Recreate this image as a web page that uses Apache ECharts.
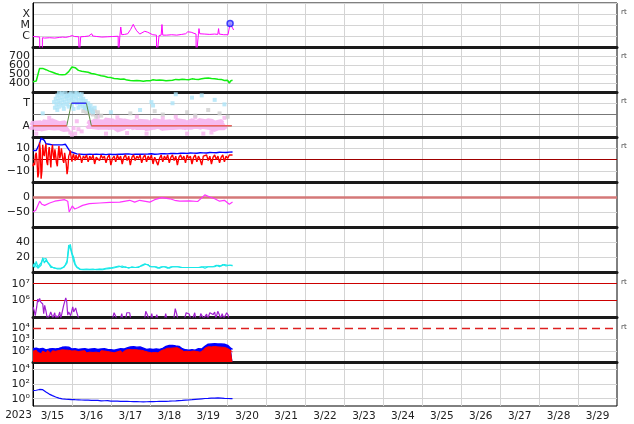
<!DOCTYPE html>
<html><head><meta charset="utf-8">
<script src="https://cdn.jsdelivr.net/npm/echarts@6/dist/echarts.min.js"></script>
<style>html,body{margin:0;padding:0;background:#fff}#c{width:634px;height:424px}</style>
</head><body><div id="c"></div>
<script>
// ---------------- DATA (hours from 2023-03-15 00:00) ----------------
const dayLabels = ['3/15','3/16','3/17','3/18','3/19','3/20','3/21','3/22','3/23','3/24','3/25','3/26','3/27','3/28','3/29'];
const yearLabel = '2023';

// Panel 1: X-ray flux [hour, W/m2]
const xrayHours = [0,1,2.3,3.5,4.1,4.25,5.7,5.8,7.2,10.3,13.4,16.5,18.3,20.2,22.6,23.9,25.7,28.2,28.4,29.2,29.4,31.9,34.3,36.2,36.8,39.3,42.4,46.1,49.1,52.5,52.6,53.5,53.6,54.1,54.7,56.5,58.4,60.2,61.8,62.7,63.9,65.8,67,68.9,70.7,71.9,73.8,76.1,76.3,77.5,77.7,79,79.5,80,82.4,85.5,88.6,91.7,94.1,95.4,96.6,97.5,98.5,100.5,100.6,101.8,102,102.3,102.8,105.9,109,112,113.9,114.4,114.8,117.6,120.2,121.5,123.7];
const xrayVals = [9e-7,8e-7,8.5e-7,7.5e-7,8e-7,1e-8,1e-8,7e-7,6.5e-7,7e-7,6.5e-7,7.5e-7,8e-7,7.5e-7,9e-7,1.1e-6,9e-7,8.5e-7,1e-8,1e-8,8.5e-7,9e-7,1e-6,1.6e-6,1e-6,9e-7,8e-7,8.5e-7,9e-7,9.5e-7,1e-8,1e-8,1.2e-6,6.6e-6,1.3e-6,1.4e-6,1.6e-6,4e-6,1.15e-5,6e-6,3e-6,1.5e-6,1.8e-6,2.7e-6,2.2e-6,1.6e-6,1.3e-6,1.2e-6,1e-8,1e-8,1.1e-6,1.2e-6,1.1e-5,1.2e-6,1.2e-6,1.3e-6,1.2e-6,1.4e-6,1.6e-6,2.4e-6,3.3e-6,2.2e-6,1.6e-6,1.5e-6,1e-8,1e-8,1.6e-6,4.7e-6,1.6e-6,1.5e-6,1.4e-6,1.5e-6,1.4e-6,4.7e-6,1.5e-6,1.3e-6,1.3e-6,1.35e-5,3.5e-6];
const flareMarker = [[121.5, 1.35e-5]];

// Panel 2: solar wind speed, hourly
const speed = [415,408,422,428,560,578,562,555,548,540,532,526,520,512,506,500,494,486,492,500,494,506,526,548,578,562,570,548,540,552,530,522,526,516,520,512,506,510,500,494,490,486,480,478,474,470,465,470,460,455,450,455,447,444,441,440,445,437,432,430,428,430,425,432,428,422,426,434,420,430,426,432,424,428,436,422,430,427,434,424,430,436,426,432,428,438,430,434,440,428,436,432,442,434,438,444,436,440,446,438,442,448,440,452,446,460,452,448,456,444,450,440,446,436,442,432,440,434,428,438,430,400,426,430];

// Panel 3: sector (T=+1 / A=-1)
const sectorHours = [0,20.8,23.7,32.9,36.0,122.5];
const sectorVals = [-1,-1,1,1,-1,-1];
const pinkBand = [-0.9,-1.1,-0.8,-1.0,-1.2,-0.9,-0.8,-1.1,-1.0,-0.7,-1.2,-0.9,-1.0,-0.8,-1.1,-0.9,-1.2,-0.8,-1.0,-0.9,-1.1,-1.0,
  null,null,null,null,null,null,null,null,null,null,null,null,null,
  -0.8,-1.0,-0.7,-1.1,-0.9,-0.6,-1.0,-0.8,-1.2,-0.7,-0.9,-1.0,-0.6,-0.9,-1.1,-0.8,-0.7,-1.0,-0.9,-1.2,-0.8,-0.6,-1.0,-0.9,-0.7,-1.1,-0.8,-0.9,-1.0,-0.7,-0.8,-1.1,-0.9,-0.6,-1.0,-0.8,-0.9,-1.2,-0.7,-0.9,-1.0,-0.8,-0.6,-1.1,-0.9,-0.8,-1.0,-0.7,-0.9,-1.2,-0.8,-1.0,-0.7,-0.9,-1.1,-0.8,-0.6,-1.0,-0.9,-0.8,-1.2,-0.7,-0.9,-1.0,-0.8,-1.1,-0.7,-0.9,-1.0,-0.8,-0.6,-1.1,-0.9,-1.0,-0.8,-0.7,-1.0,-0.9,-1.1,-0.8,-0.7,-1.0,-0.9,-0.8];
const pinkDots = [[23,-1.6],[24,-1.8],[25,-1.2],[26,-1.7],[27,-0.6],[28,-1.3],[30,-1.5],[40,-0.2],[52,-0.25],[64,-0.2],[88,-0.2],[100,-0.25],[45,-1.7],[70,-1.7],[95,-1.7],[110,-1.6],[118,-0.3],[2,-1.7],[10,-0.3],[58,-1.65],[80,-0.3],[105,-1.7]];
const cyanDots = [[13,1.1],[13.5,0.6],[14,1.4],[14.5,0.9],[15,1.7],[15.5,1.2],[16,0.7],[16.5,1.5],[17,1.0],[17.5,1.8],[18,1.3],[18.5,0.8],[19,1.6],[19.5,1.1],[20,1.9],[20.5,1.4],[21,0.9],[21.5,1.7],[22,1.2],[22.5,1.8],[23,1.5],[23.5,1.9],[24,1.3],[24.5,1.7],[25,1.1],[25.5,1.6],[26,1.9],[26.5,1.4],[27,1.0],[27.5,1.7],[28,1.3],[28.5,1.8],[29,0.9],[29.5,1.5],[30,1.2],[30.5,0.7],[31,1.4],[31.5,1.0],[32,0.6],[32.5,1.2],[33,0.8],[33.5,0.5],[34,1.0],[34.5,0.6],[35,0.3],[35.5,0.8],[36,0.5],[37,0.2],[38,0.6],[15,0.4],[18,1.9],[21,1.6],[24,0.8],[27,1.9],[30,1.8],[16,1.9],[19,0.5],[22,0.7],[25,0.5],[28,0.6],[73,1.1],[74,0.8],[86,1.0],[88,1.8],[98,1.5],[104,1.7],[112,1.3],[118,0.9],[66,0.4],[48,0.2],[6,0.1]];
const grayDots = [[31,0.3],[32,0.6],[33,0.2],[34,0.5],[35,0.1],[36,0.4],[37,0.0],[38,0.3],[39,-0.2],[40,0.2],[42,-0.1],[60,0.1],[75,0.3],[80,0.0],[95,0.2],[100,-0.1],[108,0.4],[115,0.1],[120,-0.2]];

// Panel 4: IMF Bt hourly, Bz half-hourly (first 30 h) then hourly (nT)
const bt = [8,8.5,8,9,14,19,20,17,14,13,13.5,12.5,13,12,13,12.5,13,14,13,14,13.5,15,9,7,7.5,6,6.5,5,5.5,4.8,
  4.6,4.4,4.8,4.5,4.3,4.7,4.5,4.6,4.4,4.8,4.5,4.6,4.4,4.7,4.5,4.3,4.6,4.8,4.5,4.4,4.7,4.5,4.6,4.8,
  4.5,4.7,4.6,4.9,4.7,5.0,4.8,4.6,4.9,4.7,5.0,4.8,4.9,4.7,5.0,4.8,4.6,4.9,4.8,5.1,4.9,4.7,5.0,4.8,
  5.0,5.2,4.9,5.1,5.3,5.0,5.2,5.4,5.1,5.3,5.5,5.2,5.4,5.6,5.3,5.5,5.7,5.4,5.6,5.8,5.5,5.7,5.9,5.6,
  5.8,6.0,5.7,5.9,6.1,5.8,6.0,6.2,5.9,6.1,6.3,6.0,6.2,6.4,6.1,6.3,6.5,6.2,6.4,6.6,6.5,6.7];
const bzEarly = [-6,-3,-5,4,6,-2,-16,-12,15,8,-17,-10,
  13,5,3,10,14,-2,-5,6,11,2,-7,8,
  13,4,0,9,9,-3,-6,5,12,1,4,10,
  10,-1,-3,6,7,-4,-13,-8,3,5,8,2,
  -2,3,5,1,-1,4,4,0,2,5,5,1];
const bzLate = [-3,3,1,4,-2,3,0,4,-4,2,3,-1,4,1,3,-3,2,4,
  -5,1,3,-2,4,0,3,-4,2,4,-1,3,-5,2,4,-1,3,1,4,-3,2,4,-2,3,
  0,4,-4,2,3,-5,1,4,-2,3,0,4,-3,2,4,-1,3,-5,2,4,0,3,-3,4,
  1,3,-4,2,4,-2,3,0,-5,3,2,4,-1,3,-4,2,4,0,3,-3,2,4,-2,3,1,4,3,4];

// Panel 5: Dst [hour, nT]
const dstHours = [0,1.7,4.1,5.4,7.2,10.3,13.4,16.5,19.5,21.4,22.3,23.2,24.2,25.7,27.6,30.6,34.7,41.1,47.3,53.5,59.6,62.7,65.8,72,75,79.4,84.3,87.3,90.4,96.6,101.5,104,105.9,109,112,115,118,121,123];
const dstVals = [-50,-44,-14,-24,-28,-20,-14,-11,-9,-14,-50,-44,-30,-40,-36,-28,-22,-20,-18,-17,-11,-17,-11,-17,-9,-2,-6,-11,-14,-13,-15,-3,7,0,-6,-14,-11,-24,-17];

// Panel 6: density (two channels), hourly
const densA = [10,6,14,7,5,12,17,15,18,13,14,8,6,5,6,5,4,5,4,6,8,12,30,37,25,20,11,7,5,4,3,3.5,3,4,3,3.5,3,4,3.5,3,4,3.5,4,3,4.5,4,5,4.5,5,6,5.5,7,6,8,7,6,5.5,7,6,5,6,7,5.5,6,7,6,8,9,10,11,10,9,8,7,6,7,6,5,6,7,8,7,6,5,6,7,8,7,6,7,8,6,5,6,7,6,5,6,7,6,5,6,7,6,5,7,6,7,8,7,6,7,8,9,8,7,9,10,9,8,10,9,8,9];
const densB = [7,12,8,5,6,9,19,12,16,17,10,6,5,6,5,4,5,4,5,7,10,15,36,32,30,15,9,6,4,3.5,3,3,4,3,3.5,3,3.5,3,4,3.5,3,4,3.5,4,4,5,4.5,5.5,6,5,7,6,8,7,9,8,6,6,7,6,5,6,7,6,5,7,7,8,9,10,11,10,7,8,7,6,7,6,5,6,7,8,7,6,5,6,7,8,7,6,7,7,6,5,6,7,6,5,6,7,6,5,6,8,7,6,5,6,7,8,7,6,7,8,9,8,8,9,10,9,9,10,9,8];

// Panel 7: electron flux [hour, value]
const elecHours = [0,0.7,1.4,2.3,2.9,3.5,4.1,4.7,5.4,6,6.6,7.2,8.1,8.8,9.7,10.3,10.9,11.8,12.1,13.4,14,14.6,15.2,16.5,17.1,17.7,18.9,20.2,20.8,21.4,22,22.6,23.2,24.5,25.1,25.7,26.3,26.9,27.6,28.2,49,50,51,51.6,54,54.7,55.3,57.2,57.8,58.7,59.6,60.2,68.9,69.5,70.4,71.3,72.6,73.2,73.8,75.6,76.3,76.9,81.2,81.8,82.4,86.8,87.7,88.6,89.2,93.5,94.4,95.4,96.3,97.2,98.5,99.7,100.3,102.8,103.4,104.6,105.2,107,107.7,109,110.2,111,112,112.7,113.9,114.8,115.7,116.6,117.6,118.8,119.4,120.3,120.7];
const elecVals = [4e5,2.5e5,1.2e5,4e5,1.2e6,8e5,1.3e6,8e5,1e6,6e5,1.6e5,5e5,2e5,8e4,8e4,1.3e5,2e5,1.2e5,8e4,1.8e5,8e4,1.2e5,8e4,2e5,8e4,8e4,5e5,1.4e6,8e5,1.3e5,2e5,1.6e5,1.2e5,4e5,2e5,1.8e5,3.5e5,2e5,1.2e5,8e4,8e4,1.8e5,1.4e5,8e4,8e4,1.6e5,8e4,8e4,1.8e5,1.4e5,1.8e5,8e4,8e4,2.2e5,1.4e5,8e4,8e4,1.6e5,8e4,8e4,1.4e5,8e4,8e4,1.6e5,8e4,8e4,3.2e5,1.5e5,8e4,8e4,1.8e5,2e5,1.5e5,8e4,8e4,1.8e5,8e4,8e4,1.6e5,1.8e5,8e4,1.5e5,8e4,1.8e5,2e5,1.4e5,2e5,8e4,2.2e5,1.4e5,8e4,1.6e5,8e4,8e4,1.8e5,1.3e5,8e4];

// Panel 8: proton flux channels, hourly
const protBlue = [150,110,170,120,140,100,160,130,120,170,140,110,150,120,140,110,160,130,200,170,220,190,210,160,140,110,150,120,130,100,140,120,150,110,130,120,140,110,150,120,130,110,140,120,150,110,130,140,120,150,110,140,130,120,150,110,140,160,180,200,220,190,230,200,210,190,220,180,170,140,130,120,140,110,130,120,140,110,130,150,160,200,240,260,290,270,300,280,260,290,240,200,150,130,120,140,110,130,120,140,110,130,150,120,140,160,250,330,380,420,400,440,410,430,400,420,390,410,380,350,300,220,160,130];
const protRed = [90,60,110,70,100,55,95,80,65,105,85,60,100,70,90,60,105,75,120,90,115,95,110,80,95,65,100,75,85,60,95,70,100,65,90,75,95,70,100,75,85,65,100,70,95,65,85,90,75,100,65,95,80,70,100,65,90,110,120,130,140,120,145,125,130,115,135,110,105,90,85,75,95,65,85,70,95,65,85,100,105,130,150,170,190,170,200,180,165,185,150,130,95,85,75,90,70,85,75,95,65,85,100,75,90,110,170,210,230,250,220,260,240,250,220,240,210,230,200,180,160,130,100,80];

// Panel 9: hourly
const lowChan = [12,13,14,16,18,19,17,12,8,5.5,4.2,3.3,2.6,2.1,1.7,1.4,1.2,1.0,0.95,0.9,0.85,0.8,0.82,0.78,0.75,0.8,0.72,0.76,0.7,0.72,
  0.66,0.6,0.63,0.58,0.62,0.56,0.6,0.55,0.58,0.52,0.57,0.54,0.5,0.55,0.52,0.48,0.53,0.5,0.47,0.5,0.46,0.49,0.45,0.48,0.44,0.47,0.43,0.46,0.42,0.45,
  0.41,0.44,0.4,0.43,0.39,0.42,0.38,0.41,0.37,0.4,0.38,0.41,0.39,0.42,0.4,0.43,0.41,0.44,0.42,0.45,0.43,0.46,0.44,0.47,0.45,0.5,0.48,0.52,0.5,0.55,
  0.55,0.6,0.58,0.63,0.62,0.68,0.66,0.72,0.72,0.78,0.8,0.86,0.88,0.94,0.96,1.02,1.05,1.1,1.12,1.18,1.2,1.25,1.22,1.28,1.25,1.3,1.22,1.18,1.12,1.08,1.05,1.0,1.04,1.0];

// ---------------- CHART ----------------
const FONT = 'DejaVu Sans';
const hourly = a => a.map((v, i) => [i, v]);
const pairs = (h, v) => h.map((x, i) => [x, v[i]]);
const minus = v => (v < 0 ? '\u2212' + Math.abs(v) : String(v));
const sup = {'0':'\u2070','1':'\u00B9','2':'\u00B2','3':'\u00B3','4':'\u2074','5':'\u2075','6':'\u2076','7':'\u2077'};

const tops = [3, 47, 92, 137, 182, 227, 272, 317, 362];
const heights = [44, 45, 45, 45, 45, 45, 45, 45, 44];
const grids = tops.map((t, i) => ({left: 33, right: 17, top: t, height: heights[i], show: true, borderColor: '#000', borderWidth: 1, backgroundColor: '#fff'}));

const xAxes = tops.map((t, i) => ({
  type: 'value', gridIndex: i, min: 0, max: 360, interval: 24,
  axisLabel: {show: false}, axisTick: {show: false},
  axisLine: {show: i < 8, onZero: false, lineStyle: {color: '#1a1a1a', width: 3}},
  splitLine: {show: true, showMinLine: false, showMaxLine: false, lineStyle: {color: '#d4d4d4', width: 1}}
}));
xAxes.push({type: 'category', gridIndex: 8, data: dayLabels, boundaryGap: true, position: 'bottom',
  axisLine: {show: false}, axisTick: {show: false}, splitLine: {show: false},
  axisLabel: {interval: 0, margin: 5, fontSize: 10.5, fontFamily: FONT, color: '#222'}});

const lab = f => ({fontSize: 11, fontFamily: FONT, color: '#222', margin: 3, showMinLabel: false, showMaxLabel: false, formatter: f});
const ySplit = {show: true, showMinLine: false, showMaxLine: false, lineStyle: {color: '#d4d4d4', width: 1}};
const yBase = i => ({gridIndex: i, axisTick: {show: false}, axisLine: {show: true, onZero: false, lineStyle: {color: '#000', width: 1}}});
const lg = v => Math.round(Math.log10(v));

const yAxes = [
  Object.assign(yBase(0), {type: 'log', logBase: 10, min: 1e-7, max: 1e-3, splitLine: ySplit,
    axisLabel: lab(v => ({'-6': 'C', '-5': 'M', '-4': 'X'})[lg(v)] || '')}),
  Object.assign(yBase(1), {type: 'value', min: 300, max: 800, interval: 100, splitLine: ySplit, axisLabel: lab(v => String(v))}),
  Object.assign(yBase(2), {type: 'value', min: -2, max: 2, interval: 1, splitLine: ySplit,
    axisLabel: lab(v => (v === 1 ? 'T' : v === -1 ? 'A' : ''))}),
  Object.assign(yBase(3), {type: 'value', min: -20, max: 20, interval: 10, splitLine: ySplit, axisLabel: lab(minus)}),
  Object.assign(yBase(4), {type: 'value', min: -100, max: 50, interval: 50, splitLine: ySplit, axisLabel: lab(minus)}),
  Object.assign(yBase(5), {type: 'value', min: 0, max: 60, interval: 20, splitLine: ySplit, axisLabel: lab(String)}),
  Object.assign(yBase(6), {type: 'log', logBase: 10, min: 1e5, max: 5e7, splitLine: {show: false},
    axisLabel: lab(v => ([6, 7].includes(lg(v)) && Math.abs(Math.log10(v) - lg(v)) < 0.01 ? '10' + sup[lg(v)] : ''))}),
  Object.assign(yBase(7), {type: 'log', logBase: 10, min: 1e1, max: 1e5, splitLine: {show: false},
    axisLabel: lab(v => ([2, 3, 4].includes(lg(v)) ? '10' + sup[lg(v)] : ''))}),
  Object.assign(yBase(8), {type: 'log', logBase: 10, min: 1e-1, max: 1e5, splitLine: {show: false},
    axisLabel: lab(v => ([0, 2, 4].includes(lg(v)) ? '10' + sup[lg(v)] : ''))})
];

const ml = (items) => ({silent: true, symbol: 'none', label: {show: false}, animation: false, z: 1, data: items});
const line = (i, data, color, extra) => Object.assign({type: 'line', xAxisIndex: i, yAxisIndex: i, data, symbol: 'none',
  lineStyle: {color, width: 1}, itemStyle: {color}, animation: false, clip: true, z: 3}, extra || {});
const guides = (i, items) => ({type: 'line', xAxisIndex: i, yAxisIndex: i, data: [], z: 1, silent: true, animation: false, markLine: ml(items)});
const dots = (i, data, color, size) => ({type: 'scatter', xAxisIndex: i, yAxisIndex: i, data, symbol: 'rect', symbolSize: size,
  itemStyle: {color}, animation: false, silent: true, z: 2});
const gridGray = {color: '#d4d4d4', width: 1, type: 'solid'};

const bzData = bzEarly.map((v, i) => [i * 0.5, v]).concat(bzLate.map((v, i) => [30 + i, v]));

const series = [
  // 1
  line(0, pairs(xrayHours, xrayVals), '#ff00ff'),
  {type: 'scatter', xAxisIndex: 0, yAxisIndex: 0, data: flareMarker, symbol: 'circle', symbolSize: 6,
    itemStyle: {color: '#8a8aff', borderColor: '#1a1aff', borderWidth: 1.5}, animation: false, z: 5},
  // 2
  line(1, hourly(speed), '#11ee11', {lineStyle: {color: '#11ee11', width: 1.5}}),
  // 3
  line(2, hourly(pinkBand), '#f6b3ee', {lineStyle: {color: '#f6b3ee', width: 11, opacity: 0.9}, connectNulls: false, z: 1}),
  dots(2, pinkDots, '#f6b3ee', 4),
  dots(2, grayDots, '#d0d0d0', 4),
  dots(2, cyanDots, '#ace4f7', 4),
  guides(2, [{yAxis: 0, lineStyle: {color: '#777', width: 1, type: 'solid'}}]),
  line(2, pairs(sectorHours, sectorVals), '#5a8c46', {z: 3}),
  line(2, [[sectorHours[0], sectorVals[0]], [sectorHours[1], sectorVals[1]]], '#f06060', {lineStyle: {color: '#f06060', width: 1.5}, z: 4}),
  line(2, [[sectorHours[4], sectorVals[4]], [sectorHours[5], sectorVals[5]]], '#f06060', {lineStyle: {color: '#f06060', width: 1.5}, z: 4}),
  line(2, [[sectorHours[2], sectorVals[2]], [sectorHours[3], sectorVals[3]]], '#3a3aff', {lineStyle: {color: '#3a3aff', width: 1.5}, z: 4}),
  // 4
  guides(3, [{yAxis: 0, lineStyle: {color: '#a00000', width: 1, type: 'solid'}}]),
  line(3, hourly(bt), '#0000ff', {lineStyle: {color: '#0000ff', width: 1.4}}),
  line(3, bzData, '#ff0000', {lineStyle: {color: '#ff0000', width: 1.4}, z: 4}),
  // 5
  guides(4, [{yAxis: 0, lineStyle: {color: '#d47878', width: 2.5, type: 'solid'}}]),
  line(4, pairs(dstHours, dstVals), '#ff33ff', {lineStyle: {color: '#ff33ff', width: 1.2}}),
  // 6
  line(5, hourly(densA), '#18e8e8', {lineStyle: {color: '#18e8e8', width: 1.2}}),
  line(5, hourly(densB), '#18e8e8', {lineStyle: {color: '#18e8e8', width: 1.2}}),
  // 7
  guides(6, [{yAxis: 1e6, lineStyle: {color: '#cc0000', width: 1, type: 'solid'}},
             {yAxis: 1e7, lineStyle: {color: '#cc0000', width: 1, type: 'solid'}}]),
  line(6, pairs(elecHours, elecVals), '#a020d0', {lineStyle: {color: '#a020d0', width: 1.2}}),
  // 8
  guides(7, [{yAxis: 1e2, lineStyle: gridGray}, {yAxis: 1e3, lineStyle: gridGray},
             {yAxis: 1e4, lineStyle: {color: '#dd2020', width: 1.3, type: [8, 5]}}]),
  line(7, hourly(protBlue), '#0000ff', {lineStyle: {color: '#0000ff', width: 1.5}, areaStyle: {color: '#0000ff', opacity: 1, origin: 'start'}, z: 3}),
  line(7, hourly(protRed), '#ff0000', {areaStyle: {color: '#ff0000', opacity: 1, origin: 'start'}, z: 4}),
  // 9
  guides(8, [{yAxis: 1, lineStyle: gridGray}, {yAxis: 1e2, lineStyle: gridGray}, {yAxis: 1e4, lineStyle: gridGray}]),
  line(8, hourly(lowChan), '#0a0aff', {lineStyle: {color: '#0a0aff', width: 1.2}})
];

const rtY = [12, 56, 101, 146, 282, 327];
const graphic = rtY.map(y => ({type: 'text', x: 621, y, style: {text: 'rt', fontSize: 7, fontFamily: FONT, fill: '#444', align: 'left', verticalAlign: 'middle'}}));
graphic.push({type: 'text', x: 18.5, y: 415.5, style: {text: yearLabel, fontSize: 10.5, fontFamily: FONT, fill: '#222', align: 'center', verticalAlign: 'middle'}});

const chart = echarts.init(document.getElementById('c'), null, {renderer: 'canvas'});
chart.setOption({animation: false, backgroundColor: '#fff', grid: grids, xAxis: xAxes, yAxis: yAxes, series, graphic,
  textStyle: {fontFamily: FONT}});
</script></body></html>
